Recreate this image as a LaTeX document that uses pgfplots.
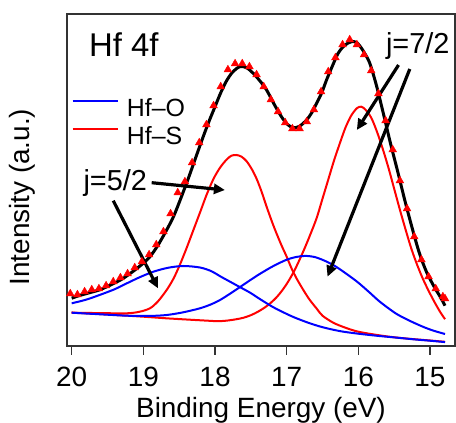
\documentclass[border=0pt]{standalone}
\usepackage{fontspec}
\setmainfont{Liberation Sans}
\usepackage{pgfplots}
\pgfplotsset{compat=1.18}
\usetikzlibrary{arrows.meta}
\begin{document}
\begin{tikzpicture}
\begin{axis}[
  scale only axis, width=388bp, height=331.7bp,
  x dir=reverse, xmin=14.651, xmax=20.0656, ymin=0, ymax=331.7,
  xtick={15,16,17,18,19,20}, ytick=\empty,
  xtick pos=left, tick align=outside, major tick length=9bp,
  axis line style={draw=black!80, line width=1.6bp},
  every tick/.style={draw=black!80, line width=1.6bp},
  /pgf/number format/assume math mode=true,
  xticklabel style={font=\fontsize{28}{28}\selectfont, anchor=base, inner sep=0pt, yshift=-32bp},
  xlabel={Binding Energy (eV)},
  xlabel style={font=\fontsize{28}{28}\selectfont, at={(rel axis cs:0.5,0)}, anchor=base, yshift=-71.6bp, inner sep=0pt},
  ylabel={Intensity (a.u.)},
  ylabel style={font=\fontsize{28}{28}\selectfont, at={(rel axis cs:-0.0954,0.448)}, anchor=base, inner sep=0pt},
  legend style={at={(rel axis cs:0.0121,0.7443)}, anchor=north west, draw=none, fill=none,
    inner sep=0pt, outer sep=0pt, row sep=5.7bp, font=\fontsize{25}{25}\selectfont,
    nodes={inner sep=0pt, text height=18bp, text depth=4bp},
    /tikz/every odd column/.append style={column sep=8.3bp}, cells={anchor=west}},
  legend image code/.code={\draw[#1] (0bp,8.5bp) -- (45bp,8.5bp);},
]
\addlegendimage{blue, line width=2bp}
\addlegendentry{Hf--O}
\addlegendimage{red, line width=2bp}
\addlegendentry{Hf--S}

% data (triangles)
\addplot[only marks, mark=triangle*, mark size=4.5bp, red, forget plot] table {
20.02 52
19.92 51
19.82 54
19.72 56
19.62 57
19.52 60
19.42 64
19.32 68
19.22 72
19.12 78
19.02 84
18.92 91
18.82 101
18.72 114
18.62 132
18.52 153
18.42 164
18.32 183
18.22 203
18.12 221
18.02 240
17.92 259
17.82 276
17.72 282
17.62 282
17.52 279
17.42 271
17.32 259
17.22 246
17.12 234
17.02 223
16.92 217
16.82 217
16.72 224
16.62 236
16.52 254
16.42 274
16.32 288
16.22 301
16.12 306
16.02 301
15.92 291
15.82 275
15.72 252
15.62 225
15.52 196
15.42 165
15.32 137
15.22 109
15.12 86
15.02 69
14.92 57
14.82 49
14.79 47
};

% Hf-S 5/2
\addplot[red, line width=2bp, smooth, forget plot] table {
20.0 33
19.6 32.6
19.23 32.4
19.05 34
18.908 37.4
18.8 44
18.675 55.7
18.58 67
18.49 81
18.4 97
18.30 116
18.2 135
18.117 151
18.02 167
17.93 178
17.84 186
17.77 190
17.70 190.7
17.63 189
17.56 184.5
17.49 177
17.42 167
17.35 154
17.28 139
17.2 123
17.14 112
17.07 100
17.0 89
16.93 77
16.86 67
16.77 56
16.68 46
16.58 37
16.5 30
16.35 23
16.2 18.5
16.03 14.5
15.85 12
15.57 9
15.3 7
15.0 5.2
14.79 3.9
};

% Hf-S 7/2
\addplot[red, line width=2bp, smooth, forget plot] table {
20.0 33
19.7 32
19.38 30.7
19.0 29
18.68 27.4
18.4 26.2
18.1 25
17.95 24.5
17.82 25.2
17.7 26.5
17.6 28
17.5 30.5
17.4 34
17.3 38.5
17.22 43
17.14 48.5
17.06 55.5
16.98 64
16.9 74
16.82 86
16.74 99
16.66 113
16.58 128
16.50 147
16.42 166
16.34 185
16.26 202
16.18 218
16.10 230
16.02 237.5
15.96 239
15.90 236
15.82 228
15.74 214
15.66 197
15.58 178
15.50 157
15.42 136
15.34 116
15.26 97
15.18 81
15.10 67
15.02 55
14.94 44
14.86 34
14.79 26.5
};

% Hf-O 5/2
\addplot[blue, line width=2bp, smooth, forget plot] table {
20.0 42.4
19.8 46
19.6 51
19.4 56.5
19.23 62.4
19.05 68.5
18.86 74
18.65 78
18.44 79.7
18.21 78.2
18.05 74.5
17.93 69.5
17.79 64
17.65 58.5
17.51 53
17.37 46.5
17.2 39
17.05 33.5
16.9 28.5
16.7 23
16.5 18.5
16.25 14.5
16.0 12
15.75 10
15.5 8.3
15.2 6.2
15.0 5
14.79 3.6
};

% Hf-O 7/2
\addplot[blue, line width=2bp, smooth, forget plot] table {
20.0 33
19.6 31.4
19.23 30
18.9 29.8
18.675 30.7
18.45 33.3
18.21 37.4
18.05 41.5
17.93 45.7
17.79 52
17.65 58.7
17.51 65.5
17.37 72
17.19 79.5
17.0 86
16.86 88.8
16.74 89.8
16.6 88.5
16.44 84
16.3 78.5
16.13 70
16.0 63
15.84 53
15.7 44
15.48 32.4
15.3 25.5
15.10 19
14.95 15
14.79 11.7
};

% envelope fit
\addplot[black, line width=3bp, smooth, forget plot] table {
20.0 47.5
19.9 50
19.75 53
19.605 56
19.45 61
19.3 66.5
19.15 74
19.0 82.5
18.908 89
18.8 100
18.675 115.7
18.58 129
18.49 145
18.374 167
18.27 188
18.165 209
18.08 225
18.0 239
17.92 253
17.838 265
17.75 274
17.653 279
17.56 278
17.467 272.4
17.37 264.5
17.28 255.7
17.19 243.5
17.095 231.5
17.0 222
16.909 218
16.82 219.5
16.722 225.7
16.65 233
16.583 242.4
16.51 253
16.444 265.7
16.36 280
16.282 292.4
16.19 300.5
16.095 304
16.02 303
15.955 297.4
15.9 291
15.84 282.4
15.75 261
15.65 232
15.55 202
15.45 174
15.35 145
15.25 118
15.15 93
15.05 74
14.95 60
14.85 48
14.79 40
};

\node[anchor=base west, inner sep=0pt, font=\fontsize{33}{33}\selectfont] at (axis cs:19.759,289) {Hf 4f};
\node[anchor=base west, inner sep=0pt, font=\fontsize{29}{29}\selectfont] at (axis cs:19.838,154.7) {j=5/2};
\node[anchor=base west, inner sep=0pt, font=\fontsize{29}{29}\selectfont] at (axis cs:15.616,291.7) {j=7/2};

\draw[-{Triangle[length=11bp,width=10bp]}, line width=3.2bp] (axis cs:18.884,163) -- (axis cs:17.862,155.7);
\draw[-{Triangle[length=11bp,width=10bp]}, line width=3.2bp] (axis cs:19.42,145) -- (axis cs:18.796,57.4);
\draw[-{Triangle[length=11bp,width=10bp]}, line width=3.2bp] (axis cs:15.439,280.7) -- (axis cs:16.021,215.7);
\draw[-{Triangle[length=11bp,width=10bp]}, line width=3.2bp] (axis cs:15.282,276.7) -- (axis cs:16.430,69);
\end{axis}
\pgfresetboundingbox
\path[use as bounding box] ([xshift=-67bp,yshift=-77.3bp]current axis.south west) rectangle ([xshift=1bp,yshift=14bp]current axis.north east);
\end{tikzpicture}
\end{document}
